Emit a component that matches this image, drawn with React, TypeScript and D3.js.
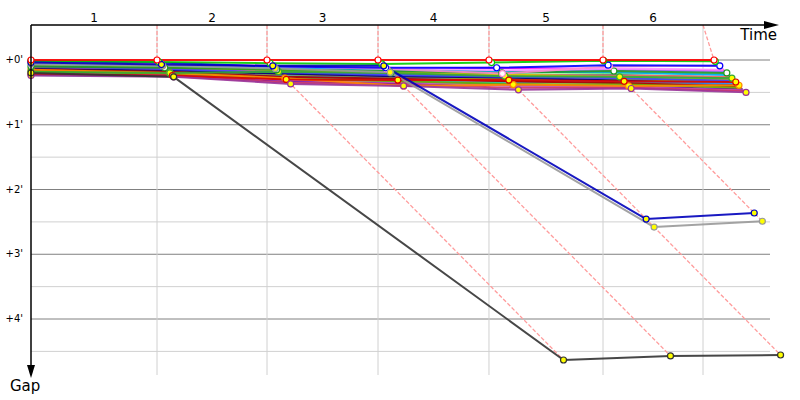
import React from "react";
import * as d3 from "d3";

// Leader crossing times (minutes) at each lap line, lap 0 = start
const leaderTimes = [0, 1.969, 3.6875, 5.422, 7.156, 8.9375, 10.672];
// Lap grid lines (time, minutes)
const gridTimes = [1.969, 3.6875, 5.422, 7.156, 8.9375, 10.5];
const lapLabels = ["1", "2", "3", "4", "5", "6"];
const gapTicks = [0, 1, 2, 3, 4];
const gapMinorTicks = [0.5, 1.5, 2.5, 3.5, 4.5];

// Series: colour, marker fill ("" = no marker), gaps (minutes) per lap crossing
const seriesColors = [
  "#00cccc", "#ff00ff", "#9966ff", "#008080", "#996633", "#999900", "#000080",
  "#66ee66", "#ff6666", "#3399ff", "#660099", "#777777", "#cccc00", "#cc66cc",
  "#aa0000", "#00aaff", "#ff99ff", "#66aa00", "#cc3366", "#4444ff",
  "#ff8800", "#33aa33", "#229922", "#dd0000", "#993399", "#ff88cc", "#0000ff",
  "#00cc00", "#999999", "#0000bb", "#333333", "#ff0000",
];
const seriesMarkers = [
  "", "", "", "", "", "", "",
  "", "", "", "", "", "", "",
  "", "", "", "", "", "",
  "yellow", "yellow", "white", "yellow", "yellow", "white", "white",
  "white", "yellow", "yellow", "yellow", "white",
];
const seriesGaps: number[][] = [
  [0.23, 0.25, 0.3, 0.32, 0.36, 0.3, 0.33],
  [0.05, 0.08, 0.1, 0.13, 0.12, 0.14, 0.16],
  [0.08, 0.1, 0.12, 0.15, 0.17, 0.15, 0.18],
  [0.12, 0.15, 0.2, 0.22, 0.24, 0.23, 0.27],
  [0.14, 0.17, 0.22, 0.26, 0.28, 0.29, 0.31],
  [0.16, 0.18, 0.24, 0.28, 0.3, 0.31, 0.34],
  [0.13, 0.16, 0.21, 0.25, 0.27, 0.32, 0.38],
  [0.07, 0.1, 0.14, 0.16, 0.19, 0.2, 0.22],
  [0.11, 0.13, 0.17, 0.2, 0.23, 0.24, 0.26],
  [0.17, 0.19, 0.25, 0.29, 0.32, 0.34, 0.36],
  [0.21, 0.23, 0.33, 0.36, 0.39, 0.41, 0.45],
  [0.19, 0.22, 0.27, 0.3, 0.33, 0.35, 0.4],
  [0.09, 0.11, 0.16, 0.18, 0.22, 0.27, 0.3],
  [0.2, 0.23, 0.31, 0.34, 0.4, 0.42, 0.47],
  [0.15, 0.18, 0.26, 0.29, 0.33, 0.36, 0.41],
  [0.06, 0.09, 0.12, 0.15, 0.18, 0.19, 0.23],
  [0.04, 0.07, 0.1, 0.12, 0.16, 0.13, 0.15],
  [0.18, 0.21, 0.29, 0.33, 0.37, 0.38, 0.43],
  [0.22, 0.25, 0.35, 0.38, 0.43, 0.43, 0.48],
  [0.1, 0.14, 0.19, 0.23, 0.26, 0.28, 0.32],
  [0.15, 0.2, 0.28, 0.4, 0.38, 0.4, 0.39],
  [0.18, 0.2, 0.18, 0.2, 0.25, 0.26, 0.28],
  [0.1, 0.12, 0.15, 0.17, 0.2, 0.17, 0.2],
  [0.22, 0.24, 0.3, 0.31, 0.31, 0.33, 0.34],
  [0.24, 0.26, 0.37, 0.4, 0.46, 0.44, 0.5],
  [0.03, 0.06, 0.09, 0.14, 0.21, 0.1, 0.09],
  [0.02, 0.04, 0.1, 0.12, 0.12, 0.08, 0.09],
  [0.01, 0.03, 0.05, 0.06, 0.04, 0.01, 0.02],
  [0.06, 0.09, 0.13, 0.19, 2.58, 2.49],
  [0.04, 0.07, 0.09, 0.09, 2.456, 2.363],
  [0.2, 0.26, 4.633, 4.57, 4.556],
  [0, 0, 0, 0, 0, 0, 0],
];

const W = 800;
const H = 400;
const FONT = "Tahoma, 'DejaVu Sans', sans-serif";

export default function App() {
  const x = d3.scaleLinear().domain([0, 10]).range([31, 671]);
  const y = d3.scaleLinear().domain([0, 5]).range([60, 383.75]);
  const xEnd = 770;
  const axisTop = 25;
  const axisLeft = x(0);

  const px = (lap: number, g: number) => (lap === 0 ? x(0) : x(leaderTimes[lap] + g));
  const line = d3
    .line<[number, number]>()
    .x((d) => d[0])
    .y((d) => d[1]);

  const pts = seriesGaps.map((gs) => gs.map((g, i) => [px(i, g), y(g)] as [number, number]));

  // max gap at each lap for dashed diagonals
  const maxGap = leaderTimes.map((_, lap) =>
    d3.max(seriesGaps, (gs) => (gs.length > lap ? gs[lap] : 0)) as number
  );

  const lapBounds = [0, ...gridTimes];

  return (
    <svg width={W} height={H} style={{ position: "absolute", left: 0, top: 0 }} fontFamily={FONT}>
      <rect width={W} height={H} fill="#fff" />
      {/* horizontal grid */}
      {gapMinorTicks.map((g) => (
        <line key={"m" + g} x1={axisLeft} x2={xEnd} y1={y(g)} y2={y(g)} stroke="#d0d0d0" />
      ))}
      {gapTicks.map((g) => (
        <line key={"M" + g} x1={axisLeft} x2={xEnd} y1={y(g)} y2={y(g)} stroke="#808080" />
      ))}
      {/* vertical lap lines */}
      {gridTimes.map((t, i) => (
        <line key={"v" + i} x1={x(t)} x2={x(t)} y1={axisTop} y2={375} stroke="#d0d0d0" />
      ))}
      {/* pink dashed crossing lines */}
      {gridTimes.map((t, i) => {
        const lap = i + 1;
        const lx = px(lap, 0);
        const mg = maxGap[lap];
        return (
          <g key={"p" + i} stroke="#ff9c9c" strokeWidth={1.3} strokeDasharray="4,2" fill="none">
            <line x1={x(t)} y1={axisTop} x2={lx} y2={y(0)} />
            <line x1={lx} y1={y(0)} x2={px(lap, mg)} y2={y(mg)} />
          </g>
        );
      })}
      {/* series lines */}
      {pts.map((p, i) => (
        <path
          key={"l" + i}
          d={line(p) as string}
          fill="none"
          stroke={seriesColors[i]}
          strokeWidth={2}
          strokeOpacity={0.9}
          strokeLinejoin="round"
        />
      ))}
      {/* markers */}
      {pts.map((p, i) =>
        seriesMarkers[i]
          ? p.map((d, j) => (
              <circle
                key={"c" + i + "-" + j}
                cx={d[0]}
                cy={d[1]}
                r={3}
                fill={seriesMarkers[i] === "yellow" ? "#ffff00" : "#ffffff"}
                stroke={seriesColors[i]}
                strokeWidth={1.2}
              />
            ))
          : null
      )}
      {/* axes */}
      <line x1={axisLeft} x2={766} y1={axisTop} y2={axisTop} stroke="#000" strokeWidth={1.5} />
      <path d={`M764,21 L779,25 L764,29 Z`} fill="#000" />
      <line x1={axisLeft} x2={axisLeft} y1={axisTop} y2={366} stroke="#000" strokeWidth={1.5} />
      <path d={`M27,365 L31,378 L35,365 Z`} fill="#000" />
      <text x={777} y={40} textAnchor="end" fontSize={15} fill="#000">Time</text>
      <text x={10} y={391} fontSize={15} fill="#000">Gap</text>
      {lapLabels.map((l, i) => (
        <text
          key={"t" + i}
          x={(x(lapBounds[i]) + x(lapBounds[i + 1])) / 2}
          y={22}
          textAnchor="middle"
          fontSize={12}
          fill="#000"
        >
          {l}
        </text>
      ))}
      {gapTicks.map((g) => (
        <text key={"y" + g} x={23} y={y(g) + 3} textAnchor="end" fontSize={10} fill="#000">
          {"+" + g + "'"}
        </text>
      ))}
    </svg>
  );
}
